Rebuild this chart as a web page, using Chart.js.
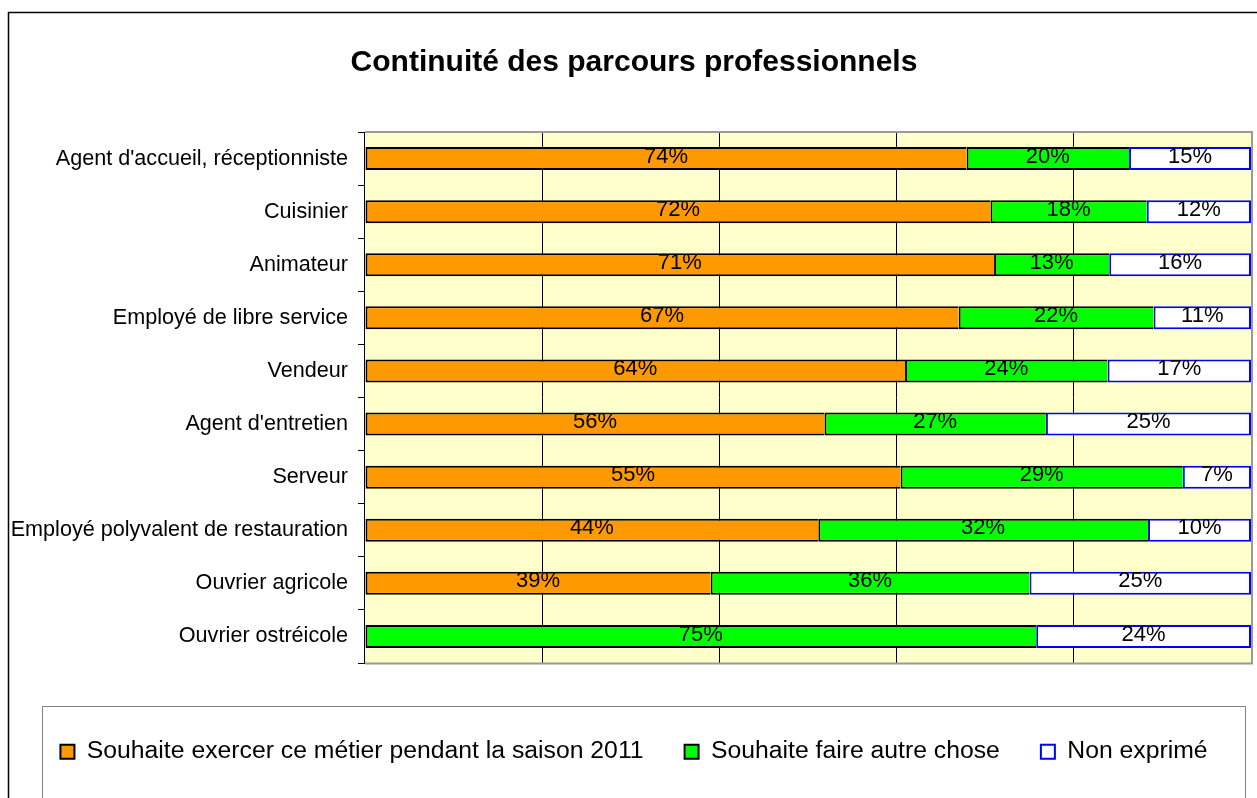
<!DOCTYPE html>
<html><head><meta charset="utf-8">
<script src="https://cdn.jsdelivr.net/npm/chart.js@4.4.0/dist/chart.umd.min.js"></script>
<style>html,body{margin:0;padding:0;background:#fff;overflow:hidden}</style>
</head><body>
<canvas id="c" width="1257" height="798"></canvas>
<script>
const chartTitle = "Continuité des parcours professionnels";
const categories = ["Agent d'accueil, réceptionniste","Cuisinier","Animateur","Employé de libre service","Vendeur","Agent d'entretien","Serveur","Employé polyvalent de restauration","Ouvrier agricole","Ouvrier ostréicole"];
const seriesNames = ["Souhaite exercer ce métier pendant la saison 2011","Souhaite faire autre chose","Non exprimé"];
const souhaiteExercer = [74,72,71,67,64,56,55,44,39,null];
const souhaiteAutre = [20,18,13,22,24,27,29,32,36,75];
const nonExprime = [15,12,16,11,17,25,7,10,25,24];
const xTicks = [0,20,40,60,80,100];

const FONT = '"Liberation Sans", Arial, sans-serif';
const seriesRaw = [souhaiteExercer, souhaiteAutre, nonExprime];
const totals = categories.map((_, i) => seriesRaw.reduce((s, arr) => s + (arr[i] || 0), 0));
const share = arr => arr.map((v, i) => v == null ? null : v / totals[i] * 100);

const styles = [
  {bg:'#FF9900', border:'#000000', skip:'right'},
  {bg:'#00FF00', border:'#000000', skip:'right'},
  {bg:'#FFFFFF', border:'#0000FF', skip:false}
];

const datasets = seriesRaw.map((arr, k) => ({
  label: seriesNames[k],
  data: share(arr),
  backgroundColor: styles[k].bg,
  borderColor: styles[k].border,
  borderWidth: 2,
  borderSkipped: styles[k].skip,
  barPercentage: 0.433,
  categoryPercentage: 1.0
}));

const decor = {
  id: 'decor',
  afterLayout(chart) {
    // let long category labels use the space left of the axis box (avoid label clipping)
    chart.scales.y.left = 0;
  },
  beforeDraw(chart) {
    const {ctx, chartArea: a} = chart;
    ctx.save();
    ctx.fillStyle = '#FFFFCC';
    ctx.fillRect(a.left, a.top, a.right - a.left, a.bottom - a.top);
    ctx.restore();
  },
  afterDatasetsDraw(chart) {
    const {ctx, chartArea: a} = chart;
    ctx.save();
    ctx.strokeStyle = '#9A9A9A';
    ctx.lineWidth = 2;
    ctx.beginPath();
    ctx.moveTo(a.left, a.top);
    ctx.lineTo(a.right + 1, a.top);
    ctx.lineTo(a.right + 1, a.bottom + 0.5);
    ctx.lineTo(a.left, a.bottom + 0.5);
    ctx.stroke();
    ctx.strokeStyle = '#000';
    ctx.lineWidth = 1;
    ctx.beginPath();
    ctx.moveTo(a.left - 0.5, a.top);
    ctx.lineTo(a.left - 0.5, a.bottom + 1);
    ctx.stroke();
    ctx.font = '22px ' + FONT;
    ctx.fillStyle = '#000';
    ctx.textAlign = 'center';
    ctx.textBaseline = 'middle';
    chart.data.datasets.forEach((ds, di) => {
      const meta = chart.getDatasetMeta(di);
      meta.data.forEach((bar, i) => {
        const raw = seriesRaw[di][i];
        if (raw == null) return;
        const p = bar.getProps(['x','base','y'], true);
        ctx.fillText(raw + '%', (p.x + p.base) / 2, p.y - 2);
      });
    });
    ctx.restore();
  },
  afterDraw(chart) {
    const ctx = chart.ctx;
    ctx.save();
    ctx.strokeStyle = '#000';
    ctx.lineWidth = 1.5;
    ctx.beginPath();
    ctx.moveTo(8.5, 810);
    ctx.lineTo(8.5, 12.5);
    ctx.lineTo(1270, 12.5);
    ctx.stroke();
    ctx.strokeStyle = '#808080';
    ctx.lineWidth = 1;
    ctx.beginPath();
    ctx.moveTo(42.5, 810);
    ctx.lineTo(42.5, 706.5);
    ctx.lineTo(1245.5, 706.5);
    ctx.lineTo(1245.5, 810);
    ctx.stroke();
    ctx.restore();
  }
};

new Chart(document.getElementById('c'), {
  type: 'bar',
  data: { labels: categories, datasets },
  plugins: [decor],
  options: {
    indexAxis: 'y',
    responsive: false,
    animation: false,
    devicePixelRatio: 1,
    layout: { padding: { left: 17, right: 6, top: 0, bottom: 24 } },
    scales: {
      x: {
        stacked: true,
        min: xTicks[0],
        max: xTicks[xTicks.length - 1],
        ticks: { display: false, stepSize: xTicks[1] - xTicks[0] },
        grid: {
          drawTicks: false,
          lineWidth: 1,
          color: c => (c.tick && (c.tick.value === xTicks[0] || c.tick.value === xTicks[xTicks.length - 1])) ? 'rgba(0,0,0,0)' : '#000'
        },
        border: { display: false },
        afterFit: s => { s.height = 35.25; }
      },
      y: {
        stacked: true,
        grid: { display: true, drawOnChartArea: false, drawTicks: true, tickLength: 7, color: '#000', offset: true },
        border: { display: false },
        ticks: { color: '#000', padding: 10, font: { size: 21.6, family: FONT } },
        afterFit: s => { s.width = 348; }
      }
    },
    plugins: {
      title: {
        display: true,
        text: chartTitle,
        color: '#000',
        font: { size: 30, weight: 'bold', family: FONT, lineHeight: 1 },
        padding: { top: 48, bottom: 54 }
      },
      legend: {
        position: 'bottom',
        labels: { color: '#000', boxWidth: 14, boxHeight: 14, padding: 41, font: { size: 24.75, family: FONT } }
      },
      tooltip: { enabled: false }
    }
  }
});
</script>
</body></html>
